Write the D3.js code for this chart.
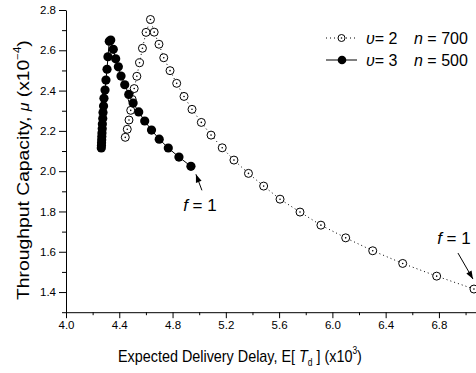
<!DOCTYPE html>
<html><head><meta charset="utf-8">
<script src="https://cdn.jsdelivr.net/npm/d3@7"></script>
<style>
body{margin:0;background:#fff}
svg{display:block}
text{font-family:"Liberation Sans",Arial,Helvetica,sans-serif;fill:#000}
</style>
</head><body>
<svg id="chart" width="476" height="373"></svg>
<script>
// ---- data ----
const xMajorTicks = [4.0, 4.4, 4.8, 5.2, 5.6, 6.0, 6.4, 6.8];
const xMinorTicks = [4.2, 4.6, 5.0, 5.4, 5.8, 6.2, 6.6, 7.0];
const yMajorTicks = [1.4, 1.6, 1.8, 2.0, 2.2, 2.4, 2.6, 2.8];
const yMinorTicks = [1.3, 1.5, 1.7, 1.9, 2.1, 2.3, 2.5, 2.7];

// series v=2, n=700 (open circles, dotted)
const delayV2 = [4.445, 4.460, 4.473, 4.486, 4.497, 4.512, 4.532, 4.552, 4.574, 4.601, 4.634,
                 4.662, 4.698, 4.734, 4.781, 4.831, 4.886, 4.946, 5.016, 5.089, 5.173, 5.261,
                 5.370, 5.484, 5.607, 5.757, 5.914, 6.100, 6.303, 6.528, 6.783, 7.063];
const capV2   = [2.168, 2.208, 2.254, 2.302, 2.356, 2.410, 2.471, 2.538, 2.610, 2.689, 2.753,
                 2.690, 2.630, 2.563, 2.499, 2.436, 2.371, 2.307, 2.242, 2.179, 2.116, 2.055,
                 1.989, 1.926, 1.861, 1.797, 1.732, 1.669, 1.605, 1.542, 1.479, 1.415];

// series v=3, n=500 (filled circles, solid)
const delayV3 = [4.265, 4.266, 4.267, 4.268, 4.269, 4.270, 4.272, 4.273, 4.276, 4.278, 4.282,
                 4.285, 4.293, 4.300, 4.308, 4.315, 4.325, 4.336,
                 4.355, 4.373, 4.393, 4.413, 4.441, 4.471, 4.504, 4.546, 4.591, 4.642,
                 4.700, 4.768, 4.848, 4.938];
const capV3   = [2.115, 2.127, 2.141, 2.156, 2.172, 2.190, 2.211, 2.234, 2.261, 2.291, 2.324,
                 2.362, 2.403, 2.452, 2.506, 2.568, 2.645, 2.651,
                 2.605, 2.558, 2.518, 2.472, 2.429, 2.381, 2.338, 2.294, 2.249, 2.204,
                 2.159, 2.115, 2.070, 2.024];

const ptsV2 = delayV2.map((d, i) => [d, capV2[i]]);
const ptsV3 = delayV3.map((d, i) => [d, capV3[i]]);

// ---- chart ----
const svg = d3.select("#chart");
const x = d3.scaleLinear().domain([4.0, 7.2]).range([66, 492.2]);
const y = d3.scaleLinear().domain([1.3, 2.8]).range([312.2, 10]);

// axes
const gx = svg.append("g").attr("transform", `translate(0,${y(1.3)})`);
gx.call(d3.axisBottom(x).tickValues(xMajorTicks).tickFormat(d3.format(".1f")).tickSize(6).tickSizeOuter(0).tickPadding(3));
const gxm = svg.append("g").attr("transform", `translate(0,${y(1.3)})`);
gxm.call(d3.axisBottom(x).tickValues(xMinorTicks).tickFormat("").tickSize(3));
gxm.select(".domain").remove();

const gy = svg.append("g").attr("transform", `translate(${x(4.0)},0)`);
gy.call(d3.axisLeft(y).tickValues(yMajorTicks).tickFormat(d3.format(".1f")).tickSize(7).tickSizeOuter(0).tickPadding(3));
const gym = svg.append("g").attr("transform", `translate(${x(4.0)},0)`);
gym.call(d3.axisLeft(y).tickValues(yMinorTicks).tickFormat("").tickSize(4));
gym.select(".domain").remove();

svg.selectAll(".tick text").attr("font-size", 11.5).style("font-family", '"Liberation Sans",Arial,sans-serif');
svg.selectAll(".domain, .tick line").attr("stroke", "#000").attr("stroke-width", 1);

const line = d3.line().x(d => x(d[0])).y(d => y(d[1]));

// v=2 series
svg.append("path").datum(ptsV2).attr("d", line)
  .attr("fill", "none").attr("stroke", "#000").attr("stroke-width", 1).attr("stroke-dasharray", "1,3");
const g2 = svg.append("g");
g2.selectAll("circle.o").data(ptsV2).join("circle").attr("class", "o")
  .attr("cx", d => x(d[0])).attr("cy", d => y(d[1])).attr("r", 4)
  .attr("fill", "#fff").attr("stroke", "#000").attr("stroke-width", 1);
g2.selectAll("circle.c").data(ptsV2).join("circle").attr("class", "c")
  .attr("cx", d => x(d[0])).attr("cy", d => y(d[1])).attr("r", 0.8).attr("fill", "#000");

// v=3 series
svg.append("path").datum(ptsV3).attr("d", line)
  .attr("fill", "none").attr("stroke", "#000").attr("stroke-width", 1);
svg.append("g").selectAll("circle").data(ptsV3).join("circle")
  .attr("cx", d => x(d[0])).attr("cy", d => y(d[1])).attr("r", 4.6).attr("fill", "#000");

// helper: text squeezed horizontally to a target width
function fitText(g, target) {
  const t = g.select("text");
  const w = t.node().getComputedTextLength ? t.node().getBBox().width : target;
  return w > 0 ? target / w : 1;
}

// legend
const lg = svg.append("g");
const rows = [
  {y: 38, v: "2", n: "700", dotted: true},
  {y: 60, v: "3", n: "500", dotted: false}
];
rows.forEach(r => {
  lg.append("line").attr("x1", 326).attr("x2", 357).attr("y1", r.y).attr("y2", r.y)
    .attr("stroke", "#000").attr("stroke-width", 1).attr("stroke-dasharray", r.dotted ? "1,3" : null);
  if (r.dotted) {
    lg.append("circle").attr("cx", 341.5).attr("cy", r.y).attr("r", 3.5).attr("fill", "#fff").attr("stroke", "#000");
    lg.append("circle").attr("cx", 341.5).attr("cy", r.y).attr("r", 0.8).attr("fill", "#000");
  } else {
    lg.append("circle").attr("cx", 342).attr("cy", r.y).attr("r", 4.3).attr("fill", "#000");
  }
  const t = lg.append("text").attr("x", 366).attr("y", r.y + 6).attr("font-size", 16);
  t.append("tspan").attr("font-style", "italic").text("υ");
  t.append("tspan").text("= " + r.v);
  const t2 = lg.append("text").attr("x", 414).attr("y", r.y + 6).attr("font-size", 16);
  t2.append("tspan").attr("font-style", "italic").text("n");
  t2.append("tspan").text(" = " + r.n);
});

// annotations "f = 1"
function annot(tx, ty, ax1, ay1, ax2, ay2) {
  const t = svg.append("text").attr("x", tx).attr("y", ty).attr("font-size", 17).attr("text-anchor", "middle");
  t.append("tspan").attr("font-style", "italic").text("f");
  t.append("tspan").text(" = 1");
  svg.append("line").attr("x1", ax1).attr("y1", ay1).attr("x2", ax2).attr("y2", ay2)
    .attr("stroke", "#000").attr("stroke-width", 1);
  const ang = Math.atan2(ay2 - ay1, ax2 - ax1);
  const L = 8, W = 3;
  const bx = ax2 - L * Math.cos(ang), by = ay2 - L * Math.sin(ang);
  svg.append("path").attr("d", `M${ax2},${ay2}L${bx + W * Math.sin(ang)},${by - W * Math.cos(ang)}L${bx - W * Math.sin(ang)},${by + W * Math.cos(ang)}Z`)
    .attr("fill", "#000");
}
const endV3 = ptsV3[ptsV3.length - 1];
const endV2 = ptsV2[ptsV2.length - 1];
annot(x(endV3[0]) + 9, y(endV3[1]) + 45, x(endV3[0]) + 11, y(endV3[1]) + 24, x(endV3[0]) + 5, y(endV3[1]) + 8);
annot(x(endV2[0]) - 20, y(endV2[1]) - 45, x(endV2[0]) - 16, y(endV2[1]) - 36, x(endV2[0]) - 1, y(endV2[1]) - 10);

// axis titles
const gxt = svg.append("g");
const xt = gxt.append("text").attr("x", 0).attr("y", 0).attr("font-size", 17);
xt.append("tspan").text("Expected Delivery Delay, E[ ");
xt.append("tspan").attr("font-style", "italic").text("T");
xt.append("tspan").attr("font-size", 10).attr("dy", 4).text("d");
xt.append("tspan").attr("dy", -4).text(" ] (x10");
xt.append("tspan").attr("font-size", 10).attr("dy", -8).text("3");
xt.append("tspan").attr("dy", 8).text(")");
gxt.attr("transform", `translate(118,362) scale(${fitText(gxt, 244)},1)`);

const gyt = svg.append("g");
const yt = gyt.append("text").attr("x", 0).attr("y", 0).attr("font-size", 17);
yt.append("tspan").text("Throughput Capacity, ");
yt.append("tspan").attr("font-style", "italic").attr("font-size", 14).text("μ");
yt.append("tspan").text(" (x10");
yt.append("tspan").attr("font-size", 10).attr("dy", -8).text("−4");
yt.append("tspan").attr("dy", 8).text(")");
gyt.attr("transform", `translate(29,300) rotate(-90) scale(${fitText(gyt, 260)},1)`);
</script>
</body></html>
